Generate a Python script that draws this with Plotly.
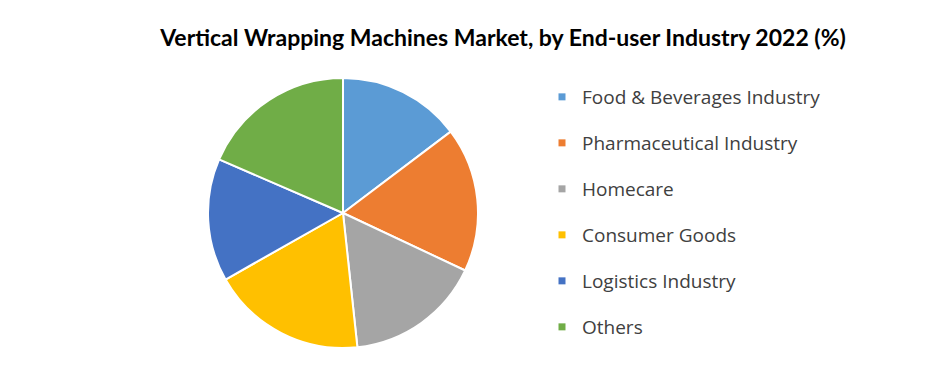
import plotly.graph_objects as go

labels = ["Food & Beverages Industry", "Pharmaceutical Industry", "Homecare",
          "Consumer Goods", "Logistics Industry", "Others"]
values = [14.7, 17.3, 16.3, 18.5, 14.7, 18.5]
colors = ["#5B9BD5", "#ED7D31", "#A5A5A5", "#FFC000", "#4472C4", "#70AD47"]
title_text = "Vertical Wrapping Machines Market, by End-user Industry 2022 (%)"

W, H = 940, 370
cx, cy, r = 343, 213, 135

fig = go.Figure()
fig.add_trace(go.Pie(
    labels=labels, values=values, sort=False, direction="clockwise", rotation=0,
    marker=dict(colors=colors, line=dict(color="white", width=2)),
    textinfo="none", hoverinfo="label+percent", showlegend=False,
    domain=dict(x=[(cx - r) / W, (cx + r) / W], y=[(H - cy - r) / H, (H - cy + r) / H]),
))
for i, (lab, col) in enumerate(zip(labels, colors)):
    fig.add_trace(go.Scatter(
        x=[None], y=[None], mode="markers", name=lab, legendgroup=f"g{i}",
        marker=dict(symbol="square", size=7, color=col), showlegend=True,
    ))

fig.update_layout(
    width=W, height=H, margin=dict(l=0, r=0, t=0, b=0),
    paper_bgcolor="white", plot_bgcolor="white",
    xaxis=dict(visible=False), yaxis=dict(visible=False),
    title=dict(text="<b>" + title_text + "</b>", x=503 / W, xanchor="center",
               y=1 - 38 / H, yanchor="middle",
               font=dict(family="Lato", size=23, color="#000000")),
    legend=dict(x=542 / W, xanchor="left", y=1 - 78 / H, yanchor="top",
                traceorder="grouped", tracegroupgap=18.3,
                font=dict(family="Open Sans", size=19, color="#404040"),
                bgcolor="rgba(0,0,0,0)", itemclick=False),
)

fig.write_html("out.html")
